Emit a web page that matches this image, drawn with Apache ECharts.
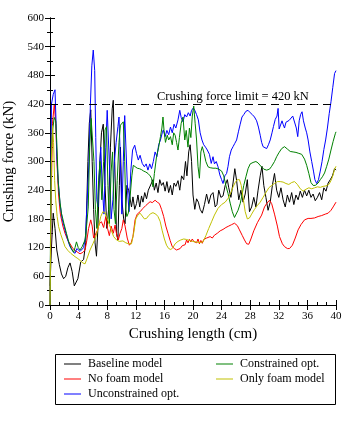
<!DOCTYPE html>
<html>
<head>
<meta charset="utf-8">
<script src="https://cdn.jsdelivr.net/npm/echarts@6/dist/echarts.min.js"></script>
<style>
  html, body { margin: 0; padding: 0; background: #fff; }
  #chart { width: 350px; height: 440px; }
</style>
</head>
<body>
<div id="chart"></div>
<script>
// crushing length (cm) vs crushing force (kN)
const baseline = [[0,40],[0.2,120],[0.45,192],[0.7,160],[0.95,115],[1.3,85],[1.6,65],[1.9,55],[2.2,60],[2.5,78],[2.8,88],[3.1,70],[3.4,40],[3.6,38],[3.9,55],[4.3,90],[4.7,95],[5.0,130],[5.3,300],[5.5,380],[5.7,408],[5.9,300],[6.1,200],[6.3,130],[6.5,102],[6.7,160],[6.95,290],[7.2,360],[7.45,378],[7.7,250],[7.95,160],[8.2,200],[8.45,330],[8.7,410],[8.85,428],[9.05,300],[9.3,150],[9.5,136],[9.7,250],[9.85,330],[10.05,220],[10.3,180],[10.5,170],[10.75,250],[11.0,240],[11.2,240],[11.4,205],[11.6,226],[11.85,200],[12.1,212],[12.3,230],[12.55,205],[12.8,228],[13.0,215],[13.25,235],[13.5,222],[13.75,240],[14.0,237],[14.2,255],[14.4,262],[14.6,240],[14.85,255],[15.1,235],[15.35,262],[15.6,250],[15.85,256],[16.1,238],[16.35,258],[16.6,235],[16.85,250],[17.1,230],[17.35,255],[17.6,248],[17.9,260],[18.15,240],[18.4,270],[18.7,262],[18.95,300],[19.15,270],[19.4,320],[19.6,335],[19.8,300],[20.0,230],[20.25,200],[20.5,222],[20.75,215],[21.0,200],[21.3,192],[21.6,210],[21.9,232],[22.2,212],[22.5,230],[22.8,235],[23.1,205],[23.35,210],[23.6,240],[23.9,225],[24.2,228],[24.5,250],[24.8,262],[25.0,245],[25.3,225],[25.6,255],[25.85,285],[26.1,260],[26.4,220],[26.7,240],[27.0,215],[27.3,232],[27.6,262],[27.9,195],[28.2,205],[28.5,225],[28.8,205],[29.1,240],[29.4,270],[29.65,290],[29.9,250],[30.2,225],[30.5,198],[30.8,215],[31.1,250],[31.4,275],[31.7,240],[32.0,225],[32.3,245],[32.6,220],[32.9,205],[33.2,230],[33.5,215],[33.8,235],[34.1,210],[34.4,230],[34.7,220],[35.0,238],[35.3,225],[35.6,240],[35.9,228],[36.2,240],[36.5,225],[36.8,232],[37.1,218],[37.4,225],[37.7,235],[38.0,220],[38.3,245],[38.6,238],[38.9,255],[39.2,262],[39.5,270],[39.8,285],[40,282]];

const noFoam = [[0,0],[0.15,200],[0.35,380],[0.6,420],[0.8,380],[1.0,290],[1.2,230],[1.45,190],[1.8,165],[2.1,150],[2.5,135],[2.8,128],[3.2,118],[3.5,114],[3.9,110],[4.2,107],[4.6,110],[4.9,115],[5.15,135],[5.4,160],[5.7,178],[5.9,165],[6.1,140],[6.35,136],[6.6,155],[6.9,170],[7.2,174],[7.5,162],[7.8,185],[8.05,160],[8.3,145],[8.55,165],[8.85,150],[9.1,167],[9.35,145],[9.55,136],[9.8,150],[10.05,160],[10.25,178],[10.5,165],[10.8,140],[11.1,125],[11.35,130],[11.6,143],[11.9,178],[12.2,190],[12.6,195],[13.0,202],[13.4,208],[13.7,212],[14.0,216],[14.3,214],[14.7,219],[15.0,215],[15.3,212],[15.6,200],[15.9,185],[16.2,165],[16.5,150],[16.8,135],[17.1,122],[17.4,118],[17.7,115],[17.95,113],[18.2,118],[18.5,124],[18.7,120],[18.9,126],[19.1,136],[19.3,130],[19.5,137],[19.7,132],[19.9,138],[20.1,133],[20.3,137],[20.5,130],[20.7,138],[20.9,128],[21.1,135],[21.3,129],[21.5,137],[21.7,133],[21.9,140],[22.1,136],[22.4,143],[22.7,140],[23.0,146],[23.4,150],[23.8,155],[24.2,158],[24.6,162],[25.0,165],[25.4,168],[25.8,171],[26.2,166],[26.5,157],[26.9,145],[27.2,136],[27.5,128],[27.8,127],[28.1,138],[28.5,155],[29.0,172],[29.6,188],[30.0,205],[30.3,212],[30.7,219],[31.0,212],[31.4,190],[31.8,165],[32.1,143],[32.5,128],[32.8,122],[33.2,118],[33.5,118],[33.9,125],[34.3,140],[34.7,157],[35.1,168],[35.6,178],[36.1,181],[36.5,181],[37.0,182],[37.5,185],[38.0,187],[38.5,190],[38.9,192],[39.3,198],[39.6,205],[40,215]];

const unconstrained = [[0,0],[0.1,150],[0.2,420],[0.45,440],[0.7,450],[0.85,380],[0.95,310],[1.15,260],[1.4,212],[1.7,180],[2.1,157],[2.5,135],[2.8,122],[3.2,112],[3.5,108],[3.75,118],[3.95,122],[4.2,112],[4.4,108],[4.7,120],[4.95,140],[5.2,219],[5.45,300],[5.65,420],[5.85,500],[6.05,533],[6.25,490],[6.4,350],[6.55,220],[6.7,205],[6.9,280],[7.1,330],[7.3,250],[7.55,190],[7.8,330],[8.0,407],[8.15,404],[8.35,280],[8.55,180],[8.8,220],[9.0,300],[9.25,340],[9.5,373],[9.65,393],[9.85,300],[10.05,190],[10.25,300],[10.45,396],[10.65,393],[10.85,240],[11.05,195],[11.3,280],[11.55,324],[11.85,334],[12.1,317],[12.35,303],[12.6,313],[12.9,296],[13.2,289],[13.45,295],[13.7,282],[13.95,295],[14.2,285],[14.45,300],[14.7,320],[14.95,310],[15.2,335],[15.45,345],[15.7,360],[15.85,366],[16.1,352],[16.35,365],[16.6,356],[16.85,372],[17.1,360],[17.35,378],[17.6,370],[17.9,387],[18.15,407],[18.35,392],[18.6,383],[18.85,398],[19.1,393],[19.35,402],[19.6,395],[19.8,407],[20.05,412],[20.25,407],[20.5,398],[20.75,387],[21.0,360],[21.25,345],[21.5,335],[21.75,330],[22.0,324],[22.3,315],[22.55,296],[22.8,310],[23.0,295],[23.25,300],[23.5,289],[23.75,272],[24.0,262],[24.2,254],[24.45,270],[24.7,275],[24.9,290],[25.1,310],[25.35,324],[25.6,331],[25.85,338],[26.1,345],[26.35,362],[26.6,378],[26.85,393],[27.1,398],[27.4,405],[27.7,407],[28.0,402],[28.3,398],[28.6,393],[28.9,385],[29.15,372],[29.4,355],[29.6,340],[29.8,331],[30.0,328],[30.3,327],[30.55,335],[30.8,345],[31.05,360],[31.25,373],[31.5,388],[31.75,395],[31.9,411],[32.05,368],[32.25,372],[32.45,385],[32.6,378],[32.8,370],[33.0,382],[33.2,378],[33.45,386],[33.7,390],[33.95,395],[34.2,397],[34.45,370],[34.65,352],[34.85,385],[35.05,398],[35.25,404],[35.45,385],[35.7,370],[35.9,360],[36.1,345],[36.35,320],[36.6,300],[36.85,280],[37.05,262],[37.3,254],[37.55,262],[37.8,280],[38.05,300],[38.3,325],[38.55,345],[38.8,370],[39.05,400],[39.3,425],[39.55,455],[39.8,484],[40,490]];

const constrained = [[0,0],[0.1,200],[0.2,330],[0.4,370],[0.6,392],[0.8,385],[0.95,340],[1.16,254],[1.4,215],[1.6,192],[1.95,170],[2.3,150],[2.65,130],[3.0,118],[3.3,110],[3.5,120],[3.7,132],[3.95,120],[4.2,115],[4.5,122],[4.9,136],[5.15,170],[5.35,205],[5.55,330],[5.75,390],[5.95,393],[6.15,300],[6.35,200],[6.55,160],[6.8,260],[7.0,300],[7.25,220],[7.5,300],[7.7,366],[7.9,373],[8.1,250],[8.3,170],[8.55,280],[8.75,320],[8.95,200],[9.15,170],[9.4,260],[9.65,340],[9.85,376],[10.05,373],[10.25,383],[10.45,300],[10.6,200],[10.75,185],[10.95,192],[11.2,226],[11.45,270],[11.65,292],[11.9,296],[12.2,286],[12.5,285],[12.8,283],[13.1,280],[13.4,278],[13.7,275],[14.0,270],[14.2,265],[14.4,247],[14.6,275],[14.9,310],[15.2,330],[15.45,352],[15.65,370],[15.8,393],[15.95,365],[16.15,340],[16.4,355],[16.6,345],[16.85,352],[17.1,335],[17.3,360],[17.5,355],[17.7,340],[17.9,324],[18.1,350],[18.35,380],[18.6,393],[18.85,345],[19.05,365],[19.3,330],[19.5,370],[19.7,350],[19.9,395],[20.1,416],[20.3,380],[20.5,345],[20.7,290],[20.9,265],[21.1,320],[21.3,331],[21.55,317],[21.8,300],[22.1,289],[22.4,287],[22.8,286],[23.2,286],[23.6,284],[24.0,280],[24.3,270],[24.6,250],[24.9,233],[25.2,213],[25.5,195],[25.8,183],[26.0,185],[26.3,198],[26.6,212],[26.85,230],[27.1,250],[27.4,268],[27.7,285],[28.0,295],[28.4,298],[28.8,300],[29.1,297],[29.5,290],[29.9,284],[30.3,282],[30.7,284],[31.0,290],[31.4,300],[31.7,310],[32.0,318],[32.4,327],[32.8,331],[33.2,326],[33.6,321],[34.0,320],[34.4,319],[34.8,317],[35.2,315],[35.6,305],[35.9,292],[36.2,275],[36.5,256],[36.8,250],[37.1,250],[37.5,255],[37.8,262],[38.1,268],[38.4,276],[38.7,290],[39.0,305],[39.3,324],[39.6,342],[39.9,358],[40,362]];

const onlyFoam = [[0,0],[0.1,150],[0.2,300],[0.35,375],[0.5,340],[0.65,260],[0.8,219],[1.0,185],[1.2,164],[1.5,148],[1.8,135],[2.1,122],[2.5,114],[2.9,108],[3.5,101],[3.9,97],[4.3,92],[4.6,88],[4.9,86],[5.2,98],[5.6,115],[6.0,128],[6.4,142],[6.8,165],[7.1,185],[7.4,195],[7.7,193],[8.0,180],[8.3,168],[8.6,155],[8.9,143],[9.3,136],[9.7,133],[10.2,134],[10.6,130],[11.0,128],[11.4,128],[11.7,150],[12.0,180],[12.3,188],[12.6,192],[12.9,186],[13.2,180],[13.5,181],[13.8,187],[14.1,191],[14.4,193],[14.8,190],[15.1,185],[15.4,175],[15.7,155],[16.0,138],[16.3,125],[16.6,118],[16.9,116],[17.2,120],[17.5,128],[17.9,133],[18.3,136],[18.7,138],[19.1,137],[19.5,135],[19.9,133],[20.3,132],[20.7,131],[21.1,131],[21.4,132],[21.8,145],[22.2,160],[22.6,174],[23.0,188],[23.5,202],[24.0,210],[24.5,215],[24.9,223],[25.3,235],[25.6,247],[25.9,256],[26.2,262],[26.5,262],[26.75,250],[27.0,225],[27.3,195],[27.6,180],[27.9,182],[28.2,190],[28.6,200],[29.0,208],[29.4,215],[29.8,225],[30.2,235],[30.6,245],[31.0,250],[31.4,254],[31.8,258],[32.2,258],[32.6,257],[33.0,254],[33.4,252],[33.8,256],[34.2,258],[34.6,252],[35.0,243],[35.4,238],[35.8,242],[36.2,245],[36.6,243],[37.0,245],[37.4,247],[37.8,246],[38.2,248],[38.6,249],[39.0,252],[39.3,260],[39.6,272],[39.8,284],[40,290]];

const forceLimit = 420;

const font = "'Liberation Serif', 'DejaVu Serif', serif";

const chart = echarts.init(document.getElementById("chart"));

function line(name, data, color) {
    return {
        name: name,
        type: "line",
        data: data,
        symbol: "none",
        animation: false,
        lineStyle: { color: color, width: 1 },
        itemStyle: { color: color }
    };
}

const frameAxis = {
    axisLine: { show: true, lineStyle: { color: "#000", width: 1 } },
    axisTick: { show: true, inside: true, length: 5, lineStyle: { color: "#000" } },
    minorTick: { show: true, length: 3, lineStyle: { color: "#000" } },
    splitLine: { show: false },
    axisLabel: { show: false }
};

const baseSeries = line("Baseline model", baseline, "#000000");
baseSeries.markLine = {
    silent: true,
    symbol: "none",
    label: { show: false },
    lineStyle: { color: "#000", type: [8, 5], width: 1 },
    data: [{ yAxis: forceLimit }]
};

const legendText = { fontFamily: font, fontSize: 12, color: "#000", padding: [0, 0, 0, 2] };

chart.setOption({
    animation: false,
    backgroundColor: "#fff",
    grid: { left: 50, right: 14, top: 18, bottom: 135, outerBoundsMode: "none", containLabel: false },
    xAxis: [{
        type: "value",
        min: 0, max: 40, interval: 4,
        name: "Crushing length (cm)",
        nameLocation: "middle",
        nameGap: 21,
        nameTextStyle: { fontFamily: font, fontSize: 15, color: "#000" },
        axisLine: { lineStyle: { color: "#000" } },
        axisTick: { inside: true, length: 5, lineStyle: { color: "#000" } },
        minorTick: { show: true, splitNumber: 3, length: 3, lineStyle: { color: "#000" } },
        splitLine: { show: false },
        axisLabel: { fontFamily: font, fontSize: 11, color: "#000", margin: 6 }
    }, Object.assign({}, frameAxis, {
        type: "value", position: "top", min: 0, max: 40, interval: 4,
        minorTick: { show: false }
    })],
    yAxis: [{
        type: "value",
        min: 0, max: 600, interval: 60,
        name: "Crushing force (kN)",
        nameLocation: "middle",
        nameGap: 33,
        nameTextStyle: { fontFamily: font, fontSize: 15, color: "#000" },
        axisLine: { show: true, lineStyle: { color: "#000" } },
        axisTick: { show: true, inside: true, length: 5, lineStyle: { color: "#000" } },
        minorTick: { show: true, splitNumber: 2, length: 3, lineStyle: { color: "#000" } },
        splitLine: { show: false },
        axisLabel: { fontFamily: font, fontSize: 11, color: "#000", margin: 6 }
    }, Object.assign({}, frameAxis, {
        type: "value", position: "right", min: 0, max: 600, interval: 60,
        minorTick: { show: true, splitNumber: 2, length: 3, lineStyle: { color: "#000" } }
    })],
    legend: [{
        orient: "vertical",
        left: 59, top: 353,
        icon: "rect",
        itemWidth: 17, itemHeight: 1, itemGap: 3,
        data: ["Baseline model", "No foam model", "Unconstrained opt."],
        textStyle: legendText
    }, {
        orient: "vertical",
        left: 211, top: 353,
        icon: "rect",
        itemWidth: 17, itemHeight: 1, itemGap: 3,
        data: ["Constrained opt.", "Only foam model"],
        textStyle: legendText
    }],
    graphic: [{
        type: "rect",
        left: 53, top: 352,
        shape: { width: 280, height: 50 },
        style: { fill: "none", stroke: "#000", lineWidth: 1 },
        silent: true
    }, {
        type: "text",
        left: 157, top: 90,
        style: { text: "Crushing force limit = 420 kN", font: "12.5px " + font, fill: "#000" },
        silent: true
    }],
    series: [
        baseSeries,
        line("No foam model", noFoam, "#ff0000"),
        line("Unconstrained opt.", unconstrained, "#0000ff"),
        line("Constrained opt.", constrained, "#008000"),
        line("Only foam model", onlyFoam, "#c0c000")
    ]
});
</script>
</body>
</html>
